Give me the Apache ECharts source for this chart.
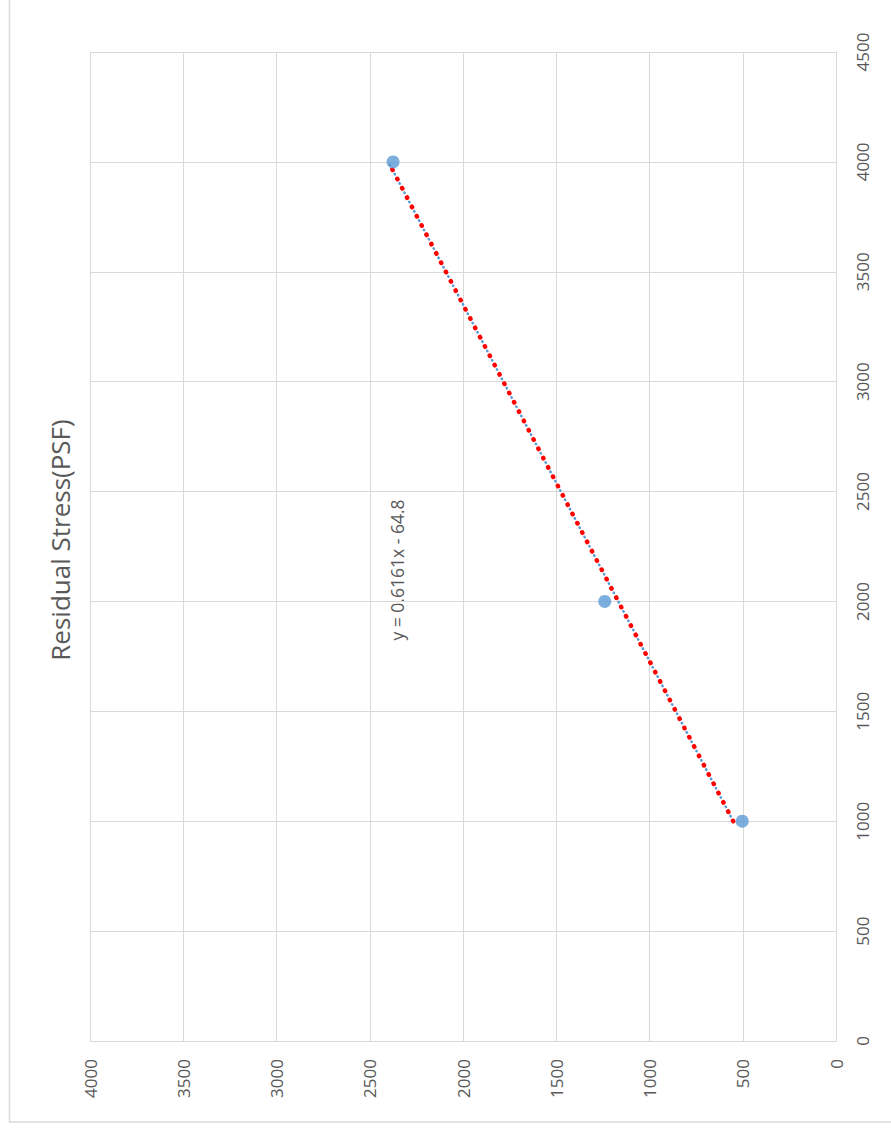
<!DOCTYPE html>
<html>
<head>
<meta charset="utf-8">
<script src="https://cdn.jsdelivr.net/npm/echarts@6/dist/echarts.min.js"></script>
<style>
  body { margin: 0; background: #fff; }
  #container { width: 891px; height: 1133px; }
</style>
</head>
<body>
<div id="container"></div>
<script>
// load values (vertical axis, right side) and residual stress (horizontal axis, inverse)
const loads = [1000, 2000, 4000];
const stresses = [503, 1240, 2375];
// trendline y = 0.6161x - 64.8, endpoints read at x = 1000 and x = 4000
const trendLoads = [1000, 4000];
const trendStresses = [551, 2400];
const stressTicks = [0, 500, 1000, 1500, 2000, 2500, 3000, 3500, 4000];
const loadTicks = [0, 500, 1000, 1500, 2000, 2500, 3000, 3500, 4000, 4500];

const points = loads.map((l, i) => [stresses[i], l]);
const trendPoints = trendLoads.map((l, i) => [trendStresses[i], l]);

const labelFont = 'Open Sans';
const grey = '#595959';
const gridColor = '#d9d9d9';

let chart = echarts.init(document.getElementById('container'), null, {renderer: 'svg'});

function plainNumber(v) {
  return String(v);
}

let option = {
  backgroundColor: '#fff',
  animation: false,
  grid: {
    left: 90,
    right: 55,
    top: 52,
    bottom: 92,
    outerBoundsMode: 'none',
  },
  xAxis: {
    type: 'value',
    inverse: true,
    min: stressTicks[0],
    max: stressTicks[stressTicks.length - 1],
    interval: 500,
    axisLine: { show: true, lineStyle: { color: gridColor, width: 1 } },
    axisTick: { show: false },
    splitLine: { show: true, lineStyle: { color: gridColor, width: 1 } },
    axisLabel: {
      rotate: 90,
      margin: 18,
      color: grey,
      fontFamily: labelFont,
      fontSize: 17,
      formatter: plainNumber,
    },
  },
  yAxis: {
    type: 'value',
    position: 'right',
    min: loadTicks[0],
    max: loadTicks[loadTicks.length - 1],
    interval: 500,
    axisLine: { show: true, lineStyle: { color: gridColor, width: 1 } },
    axisTick: { show: false },
    splitLine: { show: true, lineStyle: { color: gridColor, width: 1 } },
    axisLabel: {
      rotate: 90,
      margin: 18,
      color: grey,
      fontFamily: labelFont,
      fontSize: 17,
      formatter: plainNumber,
    },
  },
  graphic: [
    {
      type: 'rect',
      silent: true,
      shape: { x: 9.5, y: -20, width: 920, height: 1142 },
      style: { fill: 'none', stroke: gridColor, lineWidth: 1.5 },
      z: -1,
    },
    {
      type: 'text',
      x: 60,
      y: 540,
      rotation: Math.PI / 2,
      style: {
        text: 'Residual Stress(PSF)',
        fill: grey,
        fontFamily: labelFont,
        fontSize: 26,
        textAlign: 'center',
        textVerticalAlign: 'middle',
      },
    },
    {
      type: 'text',
      x: 397,
      y: 570,
      rotation: Math.PI / 2,
      style: {
        text: 'y = 0.6161x - 64.8',
        fill: grey,
        fontFamily: labelFont,
        fontSize: 17.5,
        textAlign: 'center',
        textVerticalAlign: 'middle',
      },
    },
  ],
  series: [
    {
      // blue dotted line lying under the red trendline
      type: 'line',
      data: trendPoints,
      symbol: 'none',
      lineStyle: { color: '#5b9bd5', width: 2.5, type: [0.5, 10], cap: 'round', dashOffset: 5 },
      z: 2,
    },
    {
      type: 'line',
      data: trendPoints,
      symbol: 'none',
      lineStyle: { color: '#ff0000', width: 4.5, type: [0.5, 10], cap: 'round' },
      z: 3,
    },
    {
      type: 'scatter',
      data: points,
      symbol: 'circle',
      symbolSize: 13,
      itemStyle: { color: '#5b9bd5' },
      z: 4,
    },
  ],
};

if (option && typeof option === 'object') {
  chart.setOption(option);
}
</script>
</body>
</html>
